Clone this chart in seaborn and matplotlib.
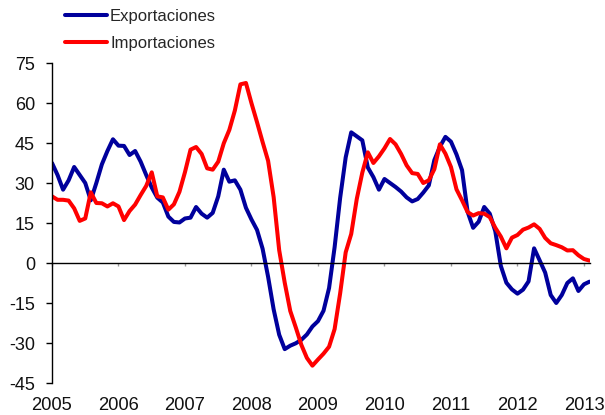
import numpy as np
import pandas as pd
import matplotlib
matplotlib.use("Agg")
import matplotlib.pyplot as plt
import seaborn as sns

series_names = ["Exportaciones", "Importaciones"]
year_labels = ["2005", "2006", "2007", "2008", "2009", "2010", "2011", "2012", "2013"]
y_ticks = [-45, -30, -15, 0, 15, 30, 45, 60, 75]

# Monthly values, Jan 2005 - Feb 2013
exportaciones = [
    37.5, 33, 27.5, 31, 36, 33, 30, 23.5, 30, 37, 42, 46.4,
    44, 43.9, 40.5, 42, 38, 33, 28.3, 24.5, 22.7, 17.4, 15.4, 15.2,
    16.7, 17, 21, 18.5, 17, 18.8, 25, 35, 30.5, 31, 27.5, 20.7,
    16.3, 12.4, 5.4, -5.2, -17.4, -26.9, -32.3, -31, -30.1, -28.8, -26.8, -23.8,
    -21.8, -17.9, -9.4, 5.9, 24.4, 39.6, 49, 47.5, 46, 35.8, 32.2, 27.5,
    31.5, 30, 28.5, 26.8, 24.6, 23.1, 24, 26.4, 29.1, 38.6, 43.6, 47.3,
    45.5, 40.7, 34.8, 19.2, 13.2, 15.5, 21, 18.5, 11.9, -1.1, -7.4, -9.9,
    -11.5, -10, -6.9, 5.5, 1, -3.6, -12, -15, -12, -7.5, -5.75, -10.5,
    -8, -7,
]
importaciones = [
    25, 23.7, 23.7, 23.4, 20.5, 15.8, 16.7, 26.5, 22.5, 22.4, 21.2, 22.4,
    21.2, 16.1, 19.5, 21.9, 25.5, 28.9, 34, 25, 24.6, 20, 22, 26.7,
    34.1, 42.5, 43.5, 40.9, 35.5, 35, 38, 44.9, 49.9, 57.2, 67, 67.5,
    59.9, 52.8, 45.4, 38.3, 24.7, 4.8, -7.4, -18, -24.2, -30.7, -35.6, -38.5,
    -36.2, -34, -31.4, -24.8, -11.4, 4, 10.9, 24, 33.9, 41.5, 37.5, 40,
    43, 46.5, 44.5, 40.9, 36.6, 33.7, 33.4, 30, 31, 35.2, 44.5, 41,
    36, 27.6, 23.5, 19.1, 17.8, 18.7, 18.5, 17.2, 13.2, 9.9, 5.5, 9.5,
    10.5, 12.5, 13.3, 14.5, 12.8, 9.4, 7.4, 6.7, 5.9, 4.7, 4.8, 2.9,
    1.5, 0.9,
]

n = len(exportaciones)
mes = np.arange(n)
df = pd.DataFrame({
    "mes": np.concatenate([mes, mes]),
    "valor": np.concatenate([exportaciones, importaciones]),
    "serie": [series_names[0]] * n + [series_names[1]] * n,
})

sns.set_style("white")
plt.rcParams["font.family"] = ["Liberation Sans", "DejaVu Sans"]

fig = plt.figure(figsize=(6.05, 4.15), dpi=100)
ax = fig.add_axes([52 / 605, 32 / 415, 537.5 / 605, 320 / 415])

sns.lineplot(data=df, x="mes", y="valor", hue="serie", hue_order=series_names,
             palette=["#00009C", "#FF0000"], linewidth=2.9, ax=ax, legend=True)

ax.set_xlim(0, n - 1)
ax.set_ylim(-45, 75)
ax.set_yticks(y_ticks)
ax.set_yticklabels([str(v) for v in y_ticks])
ax.set_xticks(np.arange(0, 12 * len(year_labels), 12))
ax.set_xticklabels(year_labels)
ax.set_xlabel("")
ax.set_ylabel("")

for s in ["top", "right"]:
    ax.spines[s].set_visible(False)
ax.spines["left"].set_color("black")
ax.spines["left"].set_linewidth(1.0)
ax.spines["bottom"].set_position(("data", 0))
ax.spines["bottom"].set_color("black")
ax.spines["bottom"].set_linewidth(1.0)

ax.tick_params(axis="y", direction="out", length=4.3, width=1, color="black",
               pad=8, left=True, labelsize=13, labelcolor="#111111")
ax.tick_params(axis="x", direction="out", length=2.5, width=1, color="#999999",
               pad=94, bottom=True, labelsize=13.2, labelcolor="#111111")

handles, labels = ax.get_legend_handles_labels()
ax.legend(handles, labels, loc="upper left", bbox_to_anchor=(65 / 605, 1 - 9 / 415),
          bbox_transform=fig.transFigure, frameon=False, fontsize=12,
          handlelength=2.5, handletextpad=0.2, labelspacing=0.72,
          borderpad=0, borderaxespad=0)

fig.savefig("out.png", dpi=100)
